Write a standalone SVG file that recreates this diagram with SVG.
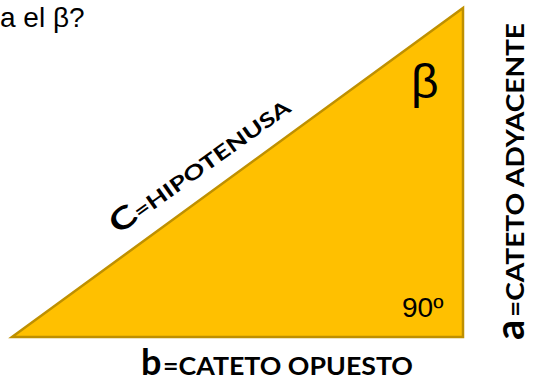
<svg xmlns="http://www.w3.org/2000/svg" width="533" height="383" viewBox="0 0 533 383">
<style>
.q{font-family:"Liberation Sans",Arial,sans-serif;fill:#000}
.lb{font-family:Lato,"Open Sans",sans-serif;font-weight:700;fill:#000}
</style>
<rect width="533" height="383" fill="#fff"/>
<text class="q" x="0" y="27" font-size="28">a el β?</text>
<g id="triangle">
<polygon points="12,337 463,8 463,337" fill="#FFC000" stroke="#BF9000" stroke-width="2.5" stroke-linejoin="miter"/>
</g>
<g id="beta"><text class="q" x="411" y="98" font-size="48">β</text></g>
<g id="angle90"><text class="q" x="402" y="317" font-size="28">90º</text></g>
<g id="label-b">
<text class="lb" x="141" y="375" font-size="36">b</text>
<text class="lb" x="163" y="375" font-size="25" textLength="250" lengthAdjust="spacingAndGlyphs">=CATETO OPUESTO</text>
</g>
<g id="label-a" transform="translate(524,340) rotate(-90)">
<text class="lb" x="0" y="0" font-size="40">a</text>
<text class="lb" x="23" y="0" font-size="24" textLength="294" lengthAdjust="spacingAndGlyphs">=CATETO ADYACENTE</text>
</g>
<g id="label-c"><text class="lb" transform="translate(118,235) rotate(-35.5)" font-size="20" textLength="214" lengthAdjust="spacingAndGlyphs"><tspan font-size="30">C</tspan>=HIPOTENUSA</text></g>
</svg>
